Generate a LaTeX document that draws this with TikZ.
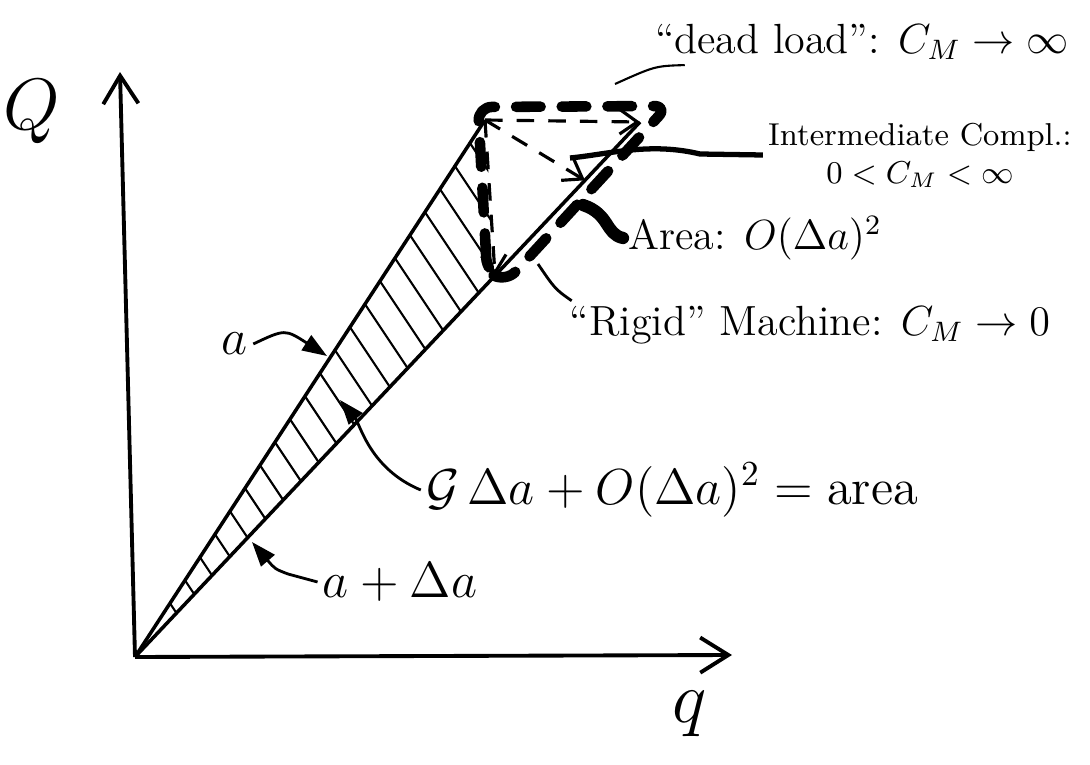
\documentclass[tikz,border=0pt]{standalone}
\usepackage{amsmath}
\usetikzlibrary{arrows.meta,calc}
\tikzset{
  lbl/.style={font=\large, inner sep=1pt},
  biglbl/.style={font=\Large, inner sep=1pt},
  leader/.style={line width=0.8pt, -{Triangle[length=7pt,width=5pt]}},
  hatch/.style={line width=0.6pt},
  thickdash/.style={line width=3pt, line cap=round, line join=round, rounded corners=4pt, dash pattern=on 7pt off 6pt},
  thindash/.style={line width=0.9pt, dash pattern=on 5pt off 4pt, -{Straight Barb[length=5pt,width=7pt]}},
  axis/.style={line width=1.1pt, -{Straight Barb[length=8pt,width=10pt]}},
}
\begin{document}
\begin{tikzpicture}[line width=1pt]
  \useasboundingbox (0,0) rectangle (10.90,7.64);
  % axes
  \coordinate (O) at (1.35,1.07);
  \coordinate (Qtop) at (1.20,6.92);
  \coordinate (qend) at (7.32,1.09);
  \draw[axis] (O) -- (Qtop);
  \draw[axis] (O) -- (qend);
  \node[font=\huge] (Qlab) at (0.32,6.52) {$Q$};
  \node[font=\huge] (qlab) at (6.90,0.50) {$q$};
  % load lines
  \coordinate (A) at (4.85,6.44);
  \coordinate (E) at (6.40,6.42);
  \coordinate (B) at ($(O)!0.713!(E)$);
  \coordinate (M) at ($(O)!0.891!(E)$);
  \begin{scope}
    \clip (O) -- (A) -- (B) -- cycle;
    \foreach \u in {0.35,0.5,...,3.5}
      \draw[hatch] (O) ++(\u,{1.534*\u}) -- ++(0.7,-1.05);
  \end{scope}
  \draw (O) -- (A);
  \draw (O) -- (E);
  % second order area
  \coordinate (TA) at (4.78,6.57);
  \coordinate (TC) at (6.68,6.58);
  \coordinate (TB) at (5.06,4.82);
  \coordinate (TL) at (4.87,4.92);
  \draw[thickdash] (TL) -- (TA) -- (TC) -- (TB) -- cycle;
  % loading paths
  \draw[thindash] (A) -- (E);
  \draw[thindash] (A) -- (M);
  \draw[thindash] (A) -- (B);
  % labels
  \node[lbl] (dead) at (8.62,7.22) {``dead load'': $C_M \to \infty$};
  \node[font=\small, inner sep=1pt, align=center] (inter) at (9.20,6.09)
    {Intermediate Compl.:\\ $0 < C_M < \infty$};
  \node[lbl] (area) at (7.55,5.26) {Area: $O(\Delta a)^2$};
  \node[lbl] (rigid) at (8.10,4.39) {``Rigid'' Machine: $C_M \to 0$};
  \node[biglbl] (alab) at (2.35,4.20) {$a$};
  \node[biglbl] (glab) at (6.72,2.74) {$\mathcal{G}\,\Delta a + O(\Delta a)^2 = \text{area}$};
  \node[biglbl] (dalab) at (4.00,1.82) {$a + \Delta a$};
  % leaders
  \draw[line width=0.6pt] ([shift={(0.35,0.0)}]dead.south west) .. controls (6.55,6.98) .. (6.15,6.80);
  \draw[line width=1.5pt] (inter.west) -- (7.0,6.10) .. controls (6.5,6.22) and (6.1,6.10) .. (5.70,6.06);
  \draw[line width=3.5pt, line cap=round] (area.west) .. controls (6.05,5.30) and (6.10,5.50) .. (5.83,5.59);
  \draw[line width=0.8pt] ([xshift=2pt]rigid.north west) .. controls (5.55,4.75) .. (5.38,5.00);
  \draw[leader] (alab.east) .. controls (2.85,4.35) .. (3.27,4.08);
  \draw[leader] (glab.west) .. controls (3.70,2.95) and (3.60,3.40) .. (3.40,3.64);
  \draw[leader] (dalab.west) -- (2.88,1.90) .. controls (2.75,1.95) .. (2.52,2.22);
\end{tikzpicture}
\end{document}
